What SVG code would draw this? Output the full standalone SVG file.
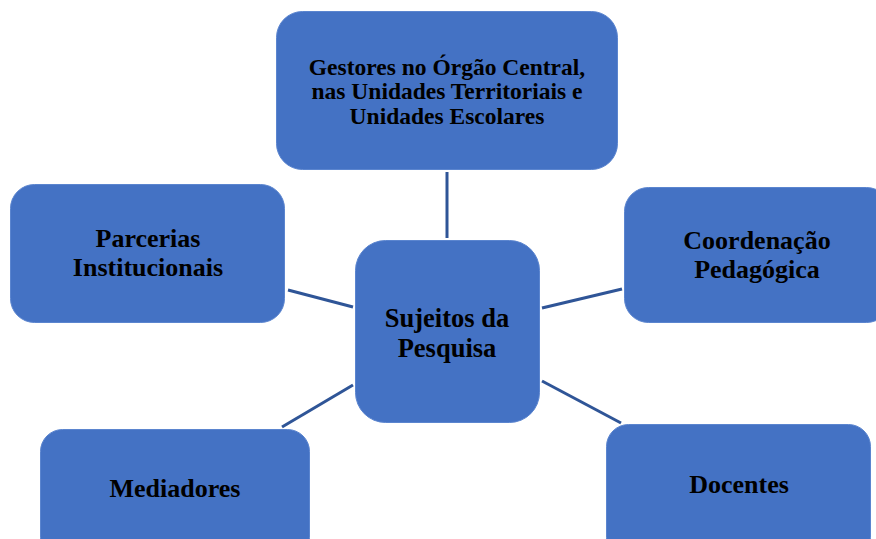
<svg xmlns="http://www.w3.org/2000/svg" width="876" height="539" viewBox="0 0 876 539">
<style>
.box{fill:#4472C4;stroke:#5B85CF;stroke-width:1}
.t{font-family:"Liberation Serif","Times New Roman",serif;font-weight:bold;fill:#000;text-anchor:middle;font-size:26px}
.c{stroke:#2F5597;stroke-width:3;fill:none}
</style>
<rect width="876" height="539" fill="#fff"/>
<g id="connectors">
<line class="c" x1="447" y1="172" x2="447" y2="238"/>
<line class="c" x1="288" y1="290" x2="353" y2="307"/>
<line class="c" x1="542" y1="308" x2="622" y2="289"/>
<line class="c" x1="282" y1="427" x2="353" y2="385"/>
<line class="c" x1="542" y1="381" x2="621" y2="423"/>
</g>
<g id="gestores">
<rect class="box" x="276.5" y="11.5" width="341" height="158" rx="26"/>
<text class="t" style="font-size:23.5px" x="447" y="75">Gestores no Órgão Central,</text>
<text class="t" style="font-size:23.5px" x="447" y="99">nas Unidades Territoriais e</text>
<text class="t" style="font-size:23.5px" x="447" y="124">Unidades Escolares</text>
</g>
<g id="sujeitos">
<rect class="box" x="355.5" y="240.5" width="184" height="182" rx="30"/>
<text class="t" style="font-size:26.5px" x="447" y="327">Sujeitos da</text>
<text class="t" style="font-size:26.5px" x="447" y="357">Pesquisa</text>
</g>
<g id="parcerias">
<rect class="box" x="10.5" y="184.5" width="274" height="138" rx="24"/>
<text class="t" x="148" y="247">Parcerias</text>
<text class="t" x="148" y="276">Institucionais</text>
</g>
<g id="coordenacao">
<rect class="box" x="624.5" y="187.5" width="266" height="135" rx="24"/>
<text class="t" x="757" y="249">Coordenação</text>
<text class="t" x="757" y="278">Pedagógica</text>
</g>
<g id="mediadores">
<rect class="box" x="40.5" y="429.5" width="269" height="130" rx="22"/>
<text class="t" x="175" y="497">Mediadores</text>
</g>
<g id="docentes">
<rect class="box" x="606.5" y="424.5" width="264" height="135" rx="22"/>
<text class="t" x="739" y="493">Docentes</text>
</g>
</svg>
